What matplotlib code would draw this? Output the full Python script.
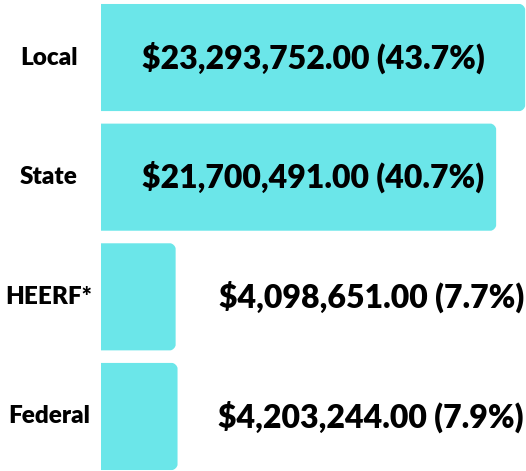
import matplotlib.pyplot as plt
from matplotlib.path import Path
from matplotlib.patches import PathPatch
from matplotlib.transforms import IdentityTransform

# funding sources
sources = ['Local', 'State', 'HEERF*', 'Federal']
amounts = [23293752.00, 21700491.00, 4098651.00, 4203244.00]
shares = [43.7, 40.7, 7.7, 7.9]

BAR_COLOR = '#6be6e9'
FONT = ['Lato', 'DejaVu Sans']

fig = plt.figure(figsize=(5.26, 4.71), dpi=100)
W, H = 526, 471
top_px, bot_px = -2.3, 476.3
ax = fig.add_axes([101 / W, (H - bot_px) / H, 425 / W, (bot_px - top_px) / H])

ypos = list(range(len(sources)))
bars = ax.barh(ypos, amounts, height=0.895, color=BAR_COLOR, linewidth=0)
ax.set_xlim(0, max(amounts) * 1.002)
ax.set_ylim(len(sources) - 0.5, -0.5)
ax.axis('off')

# swap plain rectangles for ones with rounded right corners (in pixels)
fig.canvas.draw()
r = 5.5
for b in bars:
    bb = b.get_window_extent()
    x0, y0, x1, y1 = bb.x0, bb.y0, bb.x1, bb.y1
    k = 0.45 * r
    verts = [(x0, y0), (x1 - r, y0),
             (x1 - r + k, y0), (x1, y0 + r - k), (x1, y0 + r),
             (x1, y1 - r),
             (x1, y1 - r + k), (x1 - r + k, y1), (x1 - r, y1),
             (x0, y1), (x0, y0)]
    codes = [Path.MOVETO, Path.LINETO,
             Path.CURVE4, Path.CURVE4, Path.CURVE4,
             Path.LINETO,
             Path.CURVE4, Path.CURVE4, Path.CURVE4,
             Path.LINETO, Path.CLOSEPOLY]
    p = PathPatch(Path(verts, codes), facecolor=BAR_COLOR, edgecolor='none',
                  transform=IdentityTransform(), zorder=1)
    ax.add_artist(p)
    b.set_visible(False)

xmax = ax.get_xlim()[1]
for y, name, amt, pct in zip(ypos, sources, amounts, shares):
    ax.text(-0.123 * xmax, y, name, ha='center', va='center', fontsize=17.5,
            fontweight='heavy', family=FONT, clip_on=False, zorder=3)
    label = f'${amt:,.2f} ({pct}%)'
    if amt > xmax * 0.5:
        ax.text(xmax / 2, y, label, ha='center', va='center',
                fontsize=23, fontweight='heavy', family=FONT, zorder=3)
    else:
        ax.text(xmax * 0.995, y, label, ha='right', va='center',
                fontsize=23, fontweight='heavy', family=FONT, zorder=3)

fig.savefig('out.png', dpi=100)
